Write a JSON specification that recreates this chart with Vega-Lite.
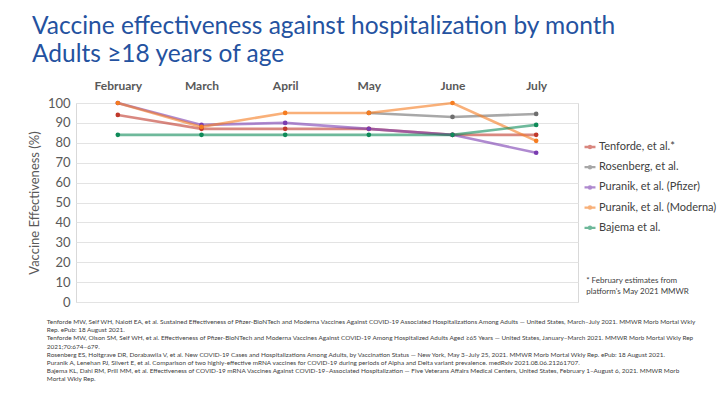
{
  "$schema": "https://vega.github.io/schema/vega-lite/v6.json",
  "autosize": {"type": "none"},
  "padding": {"left": 76, "top": 103, "right": 142, "bottom": 96},
  "width": 502,
  "height": 199,
  "background": "white",
  "title": {
    "text": ["Vaccine effectiveness against hospitalization by month", "Adults ≥18 years of age"],
    "font": "Lato",
    "fontSize": 24.5,
    "fontWeight": "normal",
    "color": "#2452a0",
    "anchor": "start",
    "frame": "group",
    "dx": -44,
    "offset": 12,
    "lineHeight": 28
  },
  "config": {
    "font": "Lato",
    "view": {"stroke": "#d9d9d9", "strokeWidth": 1},
    "axisY": {"grid": true, "gridColor": "#e3e3e3", "labelOverlap": false, "domain": false, "ticks": false},
    "axisX": {"grid": false, "domain": false, "ticks": false}
  },
  "data": {
    "values": [
      {"month": "February", "study": "Tenforde, et al.*", "ve": 94},
      {"month": "March", "study": "Tenforde, et al.*", "ve": 87},
      {"month": "April", "study": "Tenforde, et al.*", "ve": 87},
      {"month": "May", "study": "Tenforde, et al.*", "ve": 87},
      {"month": "June", "study": "Tenforde, et al.*", "ve": 84},
      {"month": "July", "study": "Tenforde, et al.*", "ve": 84},
      {"month": "May", "study": "Rosenberg, et al.", "ve": 95},
      {"month": "June", "study": "Rosenberg, et al.", "ve": 93},
      {"month": "July", "study": "Rosenberg, et al.", "ve": 94.5},
      {"month": "February", "study": "Puranik, et al. (Pfizer)", "ve": 100},
      {"month": "March", "study": "Puranik, et al. (Pfizer)", "ve": 89},
      {"month": "April", "study": "Puranik, et al. (Pfizer)", "ve": 90},
      {"month": "May", "study": "Puranik, et al. (Pfizer)", "ve": 87},
      {"month": "June", "study": "Puranik, et al. (Pfizer)", "ve": 84},
      {"month": "July", "study": "Puranik, et al. (Pfizer)", "ve": 75},
      {"month": "February", "study": "Puranik, et al. (Moderna)", "ve": 100},
      {"month": "March", "study": "Puranik, et al. (Moderna)", "ve": 88},
      {"month": "April", "study": "Puranik, et al. (Moderna)", "ve": 95},
      {"month": "May", "study": "Puranik, et al. (Moderna)", "ve": 95},
      {"month": "June", "study": "Puranik, et al. (Moderna)", "ve": 100},
      {"month": "July", "study": "Puranik, et al. (Moderna)", "ve": 81},
      {"month": "February", "study": "Bajema et al.", "ve": 84},
      {"month": "March", "study": "Bajema et al.", "ve": 84},
      {"month": "April", "study": "Bajema et al.", "ve": 84},
      {"month": "May", "study": "Bajema et al.", "ve": 84},
      {"month": "June", "study": "Bajema et al.", "ve": 84},
      {"month": "July", "study": "Bajema et al.", "ve": 89}
    ]
  },
  "encoding": {
    "x": {
      "field": "month", "type": "ordinal",
      "sort": ["February", "March", "April", "May", "June", "July"],
      "scale": {"type": "point", "padding": 0.5},
      "axis": {
        "orient": "top", "title": null, "labelAngle": 0,
        "labelFontWeight": "bold", "labelFontSize": 12, "labelColor": "#595959", "labelPadding": 11
      }
    },
    "y": {
      "field": "ve", "type": "quantitative",
      "scale": {"domain": [0, 100]},
      "axis": {
        "title": "Vaccine Effectiveness (%)", "titleFontWeight": "normal", "titleFontSize": 13,
        "titleColor": "#595959", "titleX": -42, "titleBaseline": "middle",
        "values": [0, 10, 20, 30, 40, 50, 60, 70, 80, 90, 100],
        "labelFontSize": 13, "labelColor": "#595959", "labelPadding": 6
      }
    }
  },
  "layer": [
    {
      "mark": {"type": "line", "strokeWidth": 2.6, "opacity": 0.6},
      "encoding": {
        "color": {
          "field": "study", "type": "nominal",
          "scale": {
            "domain": ["Tenforde, et al.*", "Rosenberg, et al.", "Puranik, et al. (Pfizer)", "Puranik, et al. (Moderna)", "Bajema et al."],
            "range": ["#c0392b", "#6e6e6e", "#7a3cb0", "#f57c20", "#0e8a58"]
          },
          "legend": {
            "title": null, "orient": "none", "legendX": 507, "legendY": 37,
            "labelFontSize": 11, "labelColor": "#404040", "labelOffset": 2,
            "rowPadding": 7.2,
            "symbolType": "M-1,0L1,0M-0.2,0A0.2,0.2,0,1,1,0.2,0A0.2,0.2,0,1,1,-0.2,0Z",
            "symbolSize": 120, "symbolStrokeWidth": 2.3,
            "encode": {"symbols": {"update": {"fill": {"scale": "color", "field": "value"}, "opacity": {"value": 0.75}}}}
          }
        }
      }
    },
    {
      "mark": {"type": "point", "filled": true, "size": 22, "opacity": 1},
      "encoding": {
        "color": {"field": "study", "type": "nominal"}
      }
    },
    {
      "transform": [{"filter": "datum.month == 'July' && datum.study == 'Bajema et al.'"}],
      "mark": {"type": "text", "align": "left", "baseline": "middle", "dx": 50, "fontSize": 8, "fontWeight": "normal", "lineHeight": 11, "color": "#404040"},
      "encoding": {
        "y": {"datum": 10.5, "type": "quantitative"},
        "text": {"value": ["* February estimates from", "platform's May 2021 MMWR"]}
      }
    },
    {
      "transform": [{"filter": "datum.month == 'February' && datum.study == 'Bajema et al.'"}],
      "mark": {"type": "text", "align": "left", "baseline": "top", "dx": -71, "fontSize": 6.4, "fontWeight": "normal", "lineHeight": 8.2, "color": "#404040"},
      "encoding": {
        "y": {"datum": -8.5, "type": "quantitative"},
        "text": {"value": [
          "Tenforde MW, Self WH, Naioti EA, et al. Sustained Effectiveness of Pfizer-BioNTech and Moderna Vaccines Against COVID-19 Associated Hospitalizations Among Adults — United States, March–July 2021. MMWR Morb Mortal Wkly",
          "Rep. ePub: 18 August 2021.",
          "Tenforde MW, Olson SM, Self WH, et al. Effectiveness of Pfizer-BioNTech and Moderna Vaccines Against COVID-19 Among Hospitalized Adults Aged ≥65 Years — United States, January–March 2021. MMWR Morb Mortal Wkly Rep",
          "2021;70:674–679.",
          "Rosenberg ES, Holtgrave DR, Dorabawila V, et al. New COVID-19 Cases and Hospitalizations Among Adults, by Vaccination Status — New York, May 3–July 25, 2021. MMWR Morb Mortal Wkly Rep. ePub: 18 August 2021.",
          "Puranik A, Lenehan PJ, Silvert E, et al. Comparison of two highly-effective mRNA vaccines for COVID-19 during periods of Alpha and Delta variant prevalence. medRxiv 2021.08.06.21261707.",
          "Bajema KL, Dahl RM, Prill MM, et al. Effectiveness of COVID-19 mRNA Vaccines Against COVID-19–Associated Hospitalization — Five Veterans Affairs Medical Centers, United States, February 1–August 6, 2021. MMWR Morb",
          "Mortal Wkly Rep."
        ]}
      }
    }
  ]
}
